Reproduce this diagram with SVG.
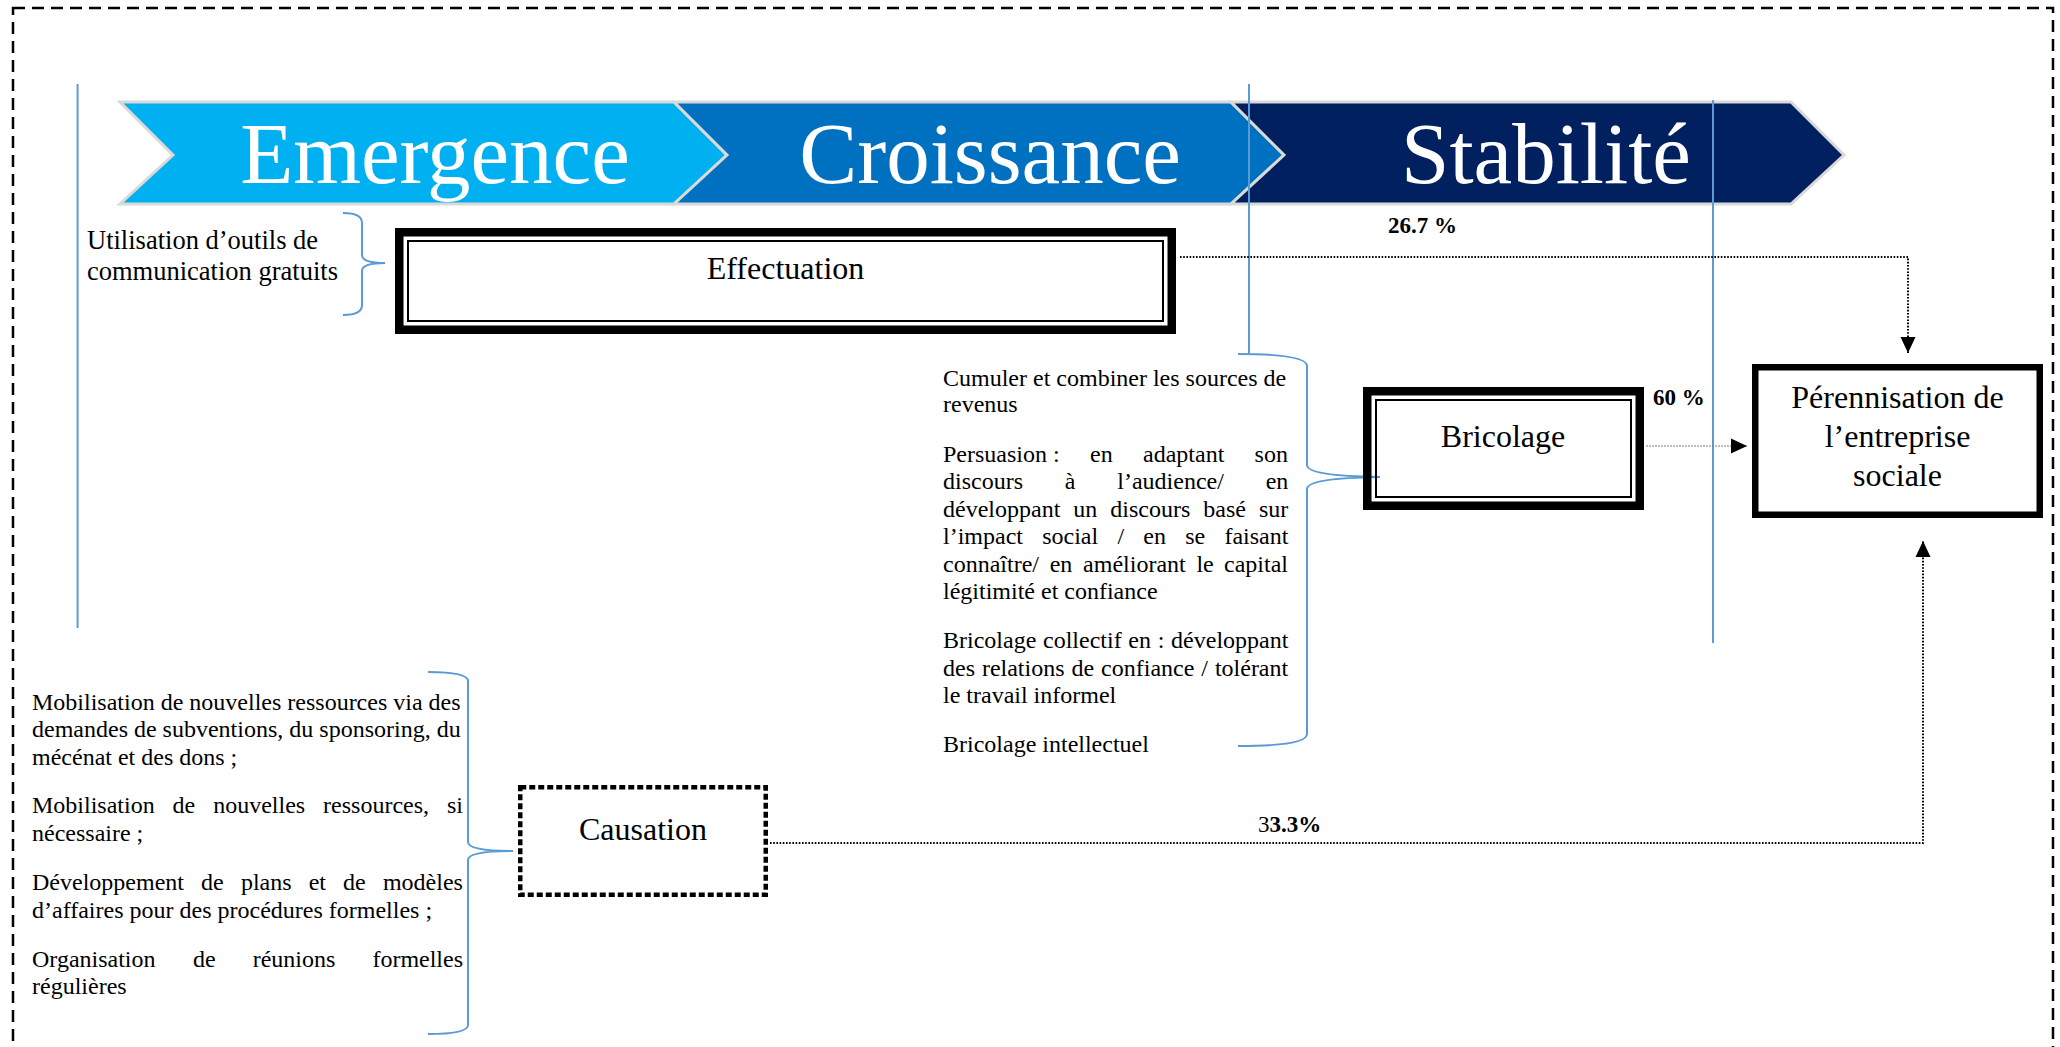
<svg xmlns="http://www.w3.org/2000/svg" width="2060" height="1047" viewBox="0 0 2060 1047">
<defs>
<style>
.chev{stroke:#d9d9d9;stroke-width:3;stroke-linejoin:miter;}
.chevtxt{font-family:"Liberation Serif","Times New Roman",serif;font-size:87px;fill:#fff;text-anchor:middle;}
.blue{stroke:#5B9BD5;stroke-width:2;fill:none;}
.lbl{font-family:"Liberation Serif","Times New Roman",serif;font-size:32px;fill:#000;text-anchor:middle;}
.list{font-family:"Liberation Serif","Times New Roman",serif;font-size:24px;fill:#000;}
.note{font-family:"Liberation Serif","Times New Roman",serif;font-size:26.5px;fill:#000;}
.pct{font-family:"Liberation Serif","Times New Roman",serif;font-size:23px;font-weight:bold;fill:#000;}
.thick{fill:none;stroke:#000;stroke-width:8.5;}
.thin{fill:none;stroke:#000;stroke-width:2;}
.dot{fill:none;stroke:#000;stroke-width:2;stroke-dasharray:1.6 1.6;}
</style>
<marker id="ah" markerWidth="16" markerHeight="16" viewBox="0 0 16 16" refX="16" refY="8" orient="auto" markerUnits="userSpaceOnUse">
<path d="M0,0.5 L16,8 L0,15.5 Z" fill="#000"/>
</marker>
</defs>

<rect x="13" y="8" width="2040" height="1070" fill="none" stroke="#000" stroke-width="2.5" stroke-dasharray="12 7"/>

<g id="phases">
<g id="phase-emergence">
<path class="chev" fill="#00B0F0" d="M120,102 L674,102 L727,155 L674,204 L120,204 L173,155 Z"/>
<text class="chevtxt" x="435" y="183">Emergence</text>
</g>
<g id="phase-croissance">
<path class="chev" fill="#0070C0" d="M674,102 L1231,102 L1284,155 L1231,204 L674,204 L727,155 Z"/>
<text class="chevtxt" x="990" y="183">Croissance</text>
</g>
<g id="phase-stabilite">
<path class="chev" fill="#002060" d="M1231,102 L1791,102 L1844,155 L1791,204 L1231,204 L1284,155 Z"/>
<text class="chevtxt" x="1546" y="183">Stabilité</text>
</g>
</g>

<g id="dividers">
<line class="blue" x1="77.6" y1="84" x2="77.6" y2="628"/>
<line class="blue" x1="1249" y1="84" x2="1249" y2="354"/>
<line class="blue" x1="1713" y1="100" x2="1713" y2="643"/>
</g>

<g id="braces">
<path class="blue" d="M343,213 Q362,213 362,223 L362,255 Q362,263 385,263 Q362,263 362,271 L362,305 Q362,315 343,315"/>
<path class="blue" d="M1238,354 Q1307,354 1307,366 L1307,465 Q1307,476 1380,477 Q1307,478 1307,489 L1307,734 Q1307,746 1238,746"/>
<path class="blue" d="M428,672 Q468,672 468,681 L468,842 Q468,851 513,851 Q468,851 468,860 L468,1025 Q468,1034 428,1034"/>
</g>

<g id="connectors">
<path class="dot" d="M1180,257 L1908,257 L1908,353" marker-end="url(#ah)"/>
<path d="M1646,446 L1747,446" fill="none" stroke="#7f7f7f" stroke-width="1.2" stroke-dasharray="2 1" marker-end="url(#ah)"/>
<path class="dot" d="M770,843 L1923,843 L1923,541" marker-end="url(#ah)"/>
<text class="pct" x="1388" y="233">26.7 %</text>
<text class="pct" x="1653" y="405">60 %</text>
<text class="pct" x="1258" y="832"><tspan font-weight="normal">3</tspan>3.3%</text>
</g>

<g id="note-utilisation">
<text class="note" x="87" y="249">Utilisation d’outils de</text>
<text class="note" x="87" y="280">communication gratuits</text>
</g>

<g id="node-effectuation">
<rect class="thick" x="399.25" y="232.25" width="772.5" height="97.5"/>
<rect class="thin" x="408" y="241" width="755" height="80"/>
<text class="lbl" x="785.5" y="279">Effectuation</text>
</g>

<g id="node-bricolage">
<rect class="thick" x="1367.25" y="391.25" width="272.5" height="114.5"/>
<rect class="thin" x="1376" y="400" width="255" height="97"/>
<text class="lbl" x="1503" y="447">Bricolage</text>
</g>

<g id="node-perennisation">
<rect x="1755.25" y="367.25" width="284.5" height="147.5" fill="#fff" stroke="#000" stroke-width="6.5"/>
<text class="lbl" x="1897.5" y="408">Pérennisation de</text>
<text class="lbl" x="1897.5" y="447">l’entreprise</text>
<text class="lbl" x="1897.5" y="486">sociale</text>
</g>

<g id="node-causation">
<rect x="520.25" y="787.25" width="245.5" height="107.5" fill="#fff" stroke="#000" stroke-width="4.5" stroke-dasharray="6 3"/>
<text class="lbl" x="643" y="840">Causation</text>
</g>

<g id="list-bricolage">
<text class="list" x="943" y="385.7">Cumuler et combiner les sources de</text>
<text class="list" x="943" y="411.7">revenus</text>
<text class="list" y="461.7"><tspan x="943">Persuasion :</tspan><tspan x="1090">en</tspan><tspan x="1143">adaptant</tspan><tspan x="1254.6">son</tspan></text>
<text class="list" y="489.3"><tspan x="943">discours</tspan><tspan x="1064.8">à</tspan><tspan x="1117.3">l’audience/</tspan><tspan x="1265.7">en</tspan></text>
<text class="list" y="516.7"><tspan x="943">développant</tspan><tspan x="1073.3">un</tspan><tspan x="1110.3">discours</tspan><tspan x="1203.3">basé</tspan><tspan x="1258.9">sur</tspan></text>
<text class="list" y="544"><tspan x="943">l’impact</tspan><tspan x="1042.2">social</tspan><tspan x="1117.4">/</tspan><tspan x="1143.3">en</tspan><tspan x="1185.2">se</tspan><tspan x="1224.4">faisant</tspan></text>
<text class="list" y="571.7"><tspan x="943">connaître/</tspan><tspan x="1049.7">en</tspan><tspan x="1083.1">améliorant</tspan><tspan x="1196.4">le</tspan><tspan x="1224">capital</tspan></text>
<text class="list" x="943" y="599.3">légitimité et confiance</text>
<text class="list" y="648.3"><tspan x="943">Bricolage</tspan><tspan x="1043">collectif</tspan><tspan x="1128.3">en</tspan><tspan x="1157.7">:</tspan><tspan x="1171.1">développant</tspan></text>
<text class="list" y="676"><tspan x="943">des</tspan><tspan x="981.9">relations</tspan><tspan x="1071.5">de</tspan><tspan x="1101.1">confiance</tspan><tspan x="1201.3">/</tspan><tspan x="1214.9">tolérant</tspan></text>
<text class="list" x="943" y="703.3">le travail informel</text>
<text class="list" x="943" y="751.7">Bricolage intellectuel</text>
</g>

<g id="list-causation">
<text class="list" x="32" y="710">Mobilisation de nouvelles ressources via des</text>
<text class="list" x="32" y="737.3">demandes de subventions, du sponsoring, du</text>
<text class="list" x="32" y="765">mécénat et des dons ;</text>
<text class="list" y="813.3"><tspan x="32">Mobilisation</tspan><tspan x="172.6">de</tspan><tspan x="213.2">nouvelles</tspan><tspan x="323.1">ressources,</tspan><tspan x="447">si</tspan></text>
<text class="list" x="32" y="840.7">nécessaire ;</text>
<text class="list" y="890"><tspan x="32">Développement</tspan><tspan x="201.1">de</tspan><tspan x="240.9">plans</tspan><tspan x="308.7">et</tspan><tspan x="343.1">de</tspan><tspan x="382.9">modèles</tspan></text>
<text class="list" x="32" y="917.7">d’affaires pour des procédures formelles ;</text>
<text class="list" y="966.7"><tspan x="32">Organisation</tspan><tspan x="193">de</tspan><tspan x="252.7">réunions</tspan><tspan x="372.4">formelles</tspan></text>
<text class="list" x="32" y="994">régulières</text>
</g>
</svg>
